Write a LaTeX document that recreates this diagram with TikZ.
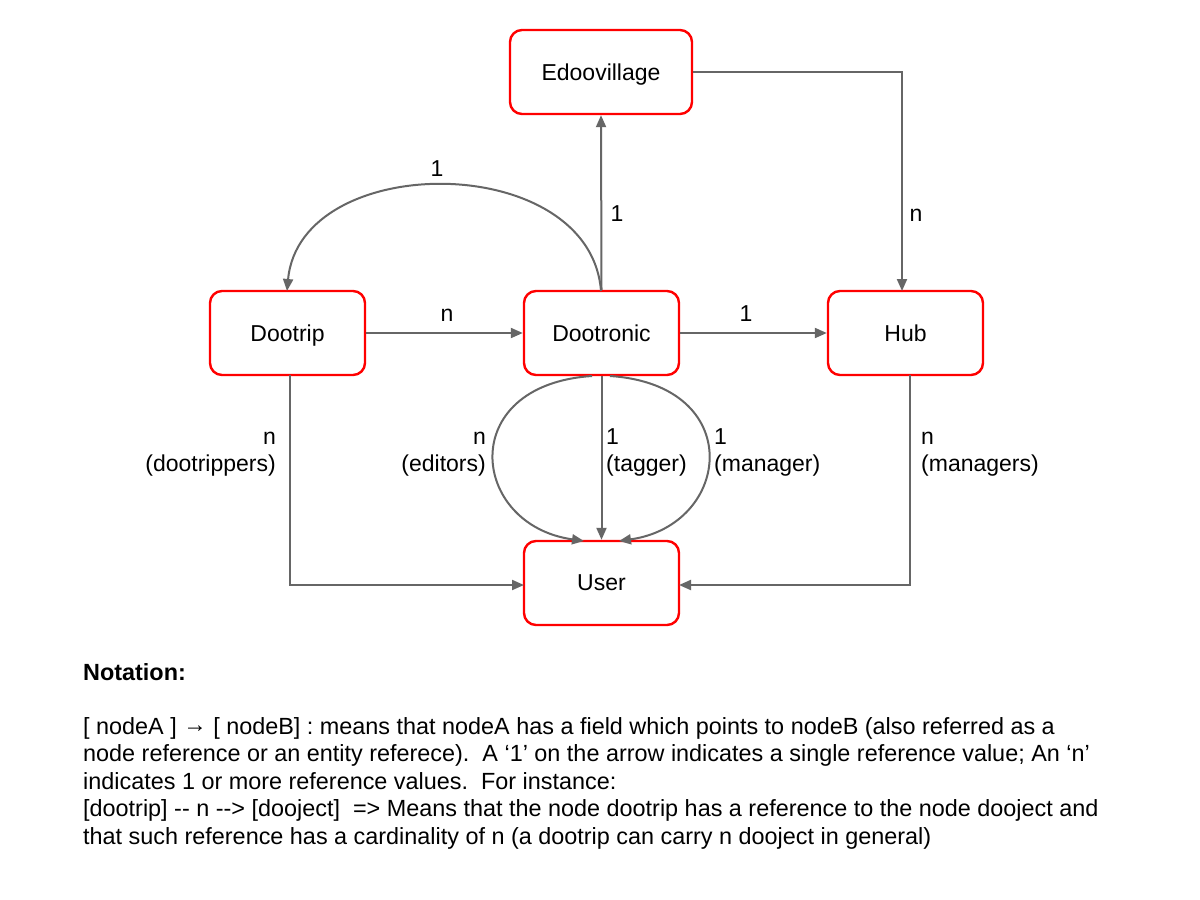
\documentclass[tikz,border=0pt]{standalone}
\usepackage{fontspec}
\setmainfont[Ligatures=NoCommon]{Liberation Sans}
\usetikzlibrary{arrows.meta}
\definecolor{edgegray}{HTML}{666666}
\definecolor{boxred}{HTML}{FF0000}
\tikzset{
  entity/.style={draw=boxred, line width=2.4pt, rounded corners=12pt, minimum width=155pt, minimum height=84pt, inner sep=0pt, font=\fontsize{23}{27}\selectfont, text depth=0pt},
  conn/.style={draw=edgegray, line width=2pt, -{Triangle[length=12pt,width=10pt]}},
  lbl/.style={inner sep=0pt, font=\fontsize{23}{27}\selectfont},
  note/.style={inner sep=0pt, anchor=base west, font=\fontsize{23.4}{27}\selectfont}
}
\begin{document}
\begin{tikzpicture}[x=1pt, y=-1pt]
\useasboundingbox[fill=white] (0,0) rectangle (1200,900);
% nodes
\node[entity, minimum width=182pt] (edoo) at (601,72) {Edoovillage};
\node[entity] (dootrip) at (287.5,333) {Dootrip};
\node[entity] (dootronic) at (601.5,333) {Dootronic};
\node[entity] (hub) at (905.5,333) {Hub};
\node[entity] (user) at (601.5,583) {User};
% coordinates
\coordinate (hubtop) at (902,291);
\coordinate (dtbot) at (290,375);
\coordinate (hubbot) at (910,375);
\coordinate (uleft) at (524,585);
\coordinate (uright) at (679,585);
\coordinate (lstart) at (592,376);
\coordinate (lend) at (584,541);
\coordinate (rstart) at (610,376);
\coordinate (rend) at (619,541);
\coordinate (arcstart) at (601,291);
\coordinate (arcend) at (287,291);
% connectors
\draw[conn] (edoo.east) -| (hubtop);
\draw[conn] (dootronic.north) -- (edoo.south);
\draw[conn] (arcstart) .. controls (590,150) and (300,150) .. (arcend);
\draw[conn] (dootrip.east) -- (dootronic.west);
\draw[conn] (dootronic.east) -- (hub.west);
\draw[conn] (dtbot) |- (uleft);
\draw[conn] (hubbot) |- (uright);
\draw[conn] (dootronic.south) -- (user.north);
\draw[conn] (lstart) .. controls (455,385) and (470,525) .. (lend);
\draw[conn] (rstart) .. controls (747,385) and (732,525) .. (rend);
% labels
\node[lbl, anchor=base] (l1) at (437,176) {1};
\node[lbl, anchor=base] (l2) at (617,221) {1};
\node[lbl, anchor=base] (l3) at (916,221) {n};
\node[lbl, anchor=base] (l4) at (447,321) {n};
\node[lbl, anchor=base] (l5) at (746,321) {1};
\node[lbl, anchor=base east] (l6a) at (276,444) {n};
\node[lbl, anchor=base east] (l6b) at (276,471) {(dootrippers)};
\node[lbl, anchor=base east] (l7a) at (486,444) {n};
\node[lbl, anchor=base east] (l7b) at (486,471) {(editors)};
\node[lbl, anchor=base west] (l8a) at (606,444) {1};
\node[lbl, anchor=base west] (l8b) at (606,471) {(tagger)};
\node[lbl, anchor=base west] (l9a) at (714,444) {1};
\node[lbl, anchor=base west] (l9b) at (714,471) {(manager)};
\node[lbl, anchor=base west] (l10a) at (921,444) {n};
\node[lbl, anchor=base west] (l10b) at (921,471) {(managers)};
% notation
\node[note, font=\fontsize{23.4}{27}\selectfont\bfseries] (nt) at (83,680) {Notation:};
\node[note] (n1) at (83,734) {[ nodeA ] \raisebox{1.5pt}{→} [ nodeB] : means that nodeA has a field which points to nodeB (also referred as a};
\node[note] (n2) at (83,761.5) {node reference or an entity referece).\ \ A ‘1’ on the arrow indicates a single reference value; An ‘n’};
\node[note] (n3) at (83,789) {indicates 1 or more reference values.\ \ For instance:};
\node[note] (n4) at (83,816.5) {[dootrip] -{}- n -{}-> [dooject]\ \ => Means that the node dootrip has a reference to the node dooject and};
\node[note] (n5) at (83,844) {that such reference has a cardinality of n (a dootrip can carry n dooject in general)};
\end{tikzpicture}
\end{document}
